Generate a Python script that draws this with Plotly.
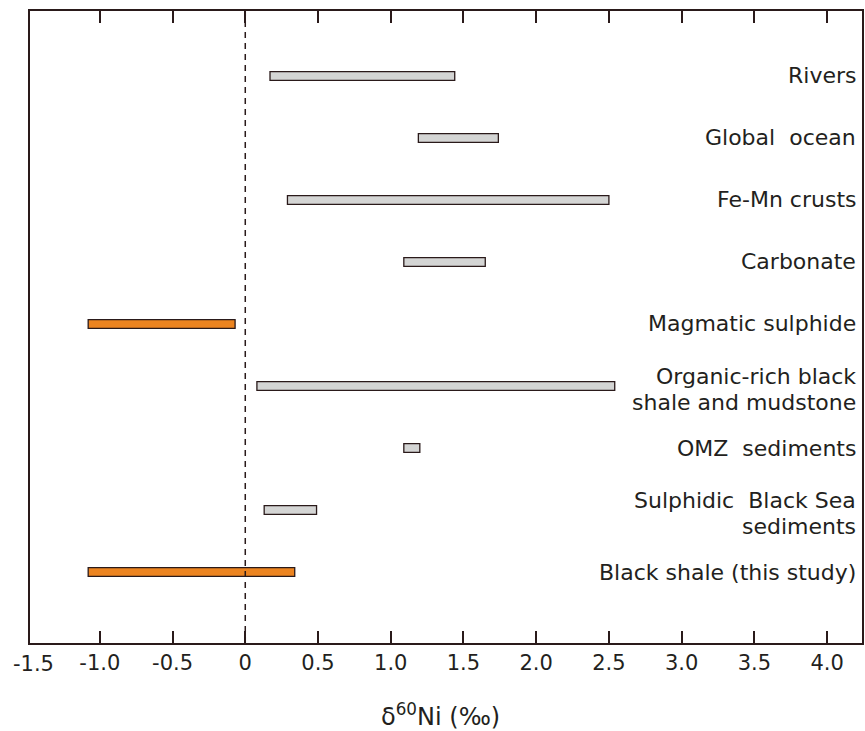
import plotly.graph_objects as go

categories = ["Rivers", "Global\u00a0 ocean", "Fe-Mn crusts", "Carbonate", "Magmatic sulphide",
              "Organic-rich black<br>shale and mudstone", "OMZ\u00a0 sediments",
              "Sulphidic\u00a0 Black Sea<br>sediments", "Black shale (this study)"]
range_min = [0.17, 1.19, 0.29, 1.09, -1.08, 0.08, 1.09, 0.13, -1.08]
range_max = [1.44, 1.74, 2.50, 1.65, -0.07, 2.54, 1.20, 0.49, 0.34]
highlight = [False, False, False, False, True, False, False, False, True]
tick_vals = [-1.0, -0.5, 0, 0.5, 1.0, 1.5, 2.0, 2.5, 3.0, 3.5, 4.0]
tick_text = ["-1.0", "-0.5", "0", "0.5", "1.0", "1.5", "2.0", "2.5", "3.0", "3.5", "4.0"]
edge_tick_label = "-1.5"

dark = "#2a1a1a"
gray = "#d4d5d4"
orange = "#ec8420"
txt = "#231f20"
FONT = "DejaVu Sans"

ypos = list(range(len(categories)))
fig = go.Figure()
fig.add_trace(go.Bar(
    orientation="h",
    y=ypos,
    base=range_min,
    x=[b - a for a, b in zip(range_min, range_max)],
    width=0.14,
    marker=dict(color=[orange if h else gray for h in highlight],
                line=dict(color=dark, width=1.3)),
    showlegend=False,
    hoverinfo="skip",
))

fig.add_shape(type="line", xref="x", yref="paper", x0=0, x1=0, y0=0, y1=1,
              line=dict(color=dark, width=1.5, dash="6px,5px"))

for i, c in enumerate(categories):
    lines = c.split("<br>")
    if len(lines) == 1:
        offsets = [0.0]
    else:
        offsets = [-0.16, 0.26]
    for ln, off in zip(lines, offsets):
        fig.add_annotation(x=1, xref="paper", xanchor="right", xshift=-4,
                           y=i + off, yref="y", yanchor="middle",
                           text=ln, showarrow=False, align="right",
                           font=dict(family=FONT, size=22, color=txt))

# tick label at the left edge of the axis range
fig.add_annotation(x=0, xref="paper", xanchor="center", xshift=3,
                   y=-0.033, yref="paper", yanchor="middle",
                   text=edge_tick_label, showarrow=False,
                   font=dict(family=FONT, size=21, color=txt))

fig.add_annotation(x=0.493, xref="paper", y=-0.1147, yref="paper", yanchor="middle",
                   text="\u03b4<sup>60</sup>Ni (\u2030)", showarrow=False,
                   font=dict(family=FONT, size=24, color=txt))

fig.update_layout(
    width=865, height=731,
    margin=dict(l=30, r=1, t=11, b=88),
    plot_bgcolor="white", paper_bgcolor="white",
    xaxis=dict(range=[-1.48, 4.24], tickvals=tick_vals, ticktext=tick_text,
               ticks="inside", ticklen=12, tickwidth=1.5, tickcolor=dark,
               showline=True, linecolor=dark, linewidth=1.5, mirror="ticks",
               showgrid=False, zeroline=False,
               tickfont=dict(family=FONT, size=21, color=txt)),
    yaxis=dict(range=[9.145, -1.048], showticklabels=False, ticks="",
               showline=True, linecolor=dark, linewidth=1.5, mirror=True,
               showgrid=False, zeroline=False),
)

fig.write_html("out.html", config={"displayModeBar": False},
               post_script="document.body.style.margin='0';document.body.style.overflow='hidden';")
